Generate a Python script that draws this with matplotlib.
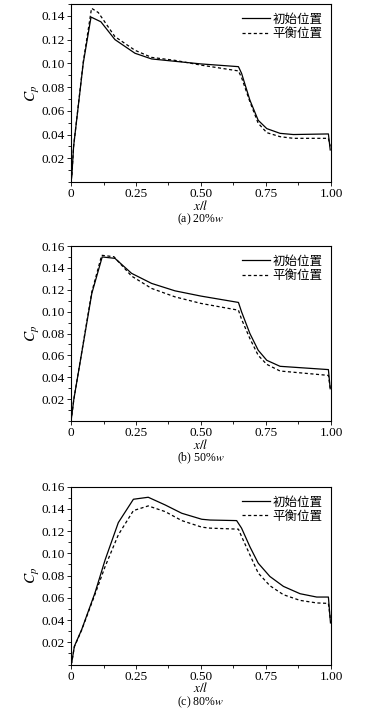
import matplotlib
matplotlib.use('Agg')
import matplotlib.pyplot as plt
from matplotlib.ticker import MultipleLocator, FixedLocator, FixedFormatter

plt.rcParams['font.family'] = ['Liberation Serif', 'Noto Sans CJK SC']
plt.rcParams['mathtext.fontset'] = 'stix'

# legend labels
labels = ['初始位置', '平衡位置']
captions = ['(a) 20%', '(b) 50%', '(c) 80%']

# (a) 20%w
xa_init = [0, 0.003, 0.010, 0.047, 0.077, 0.115, 0.169, 0.246, 0.31, 0.40, 0.50, 0.644,
           0.656, 0.688, 0.72, 0.753, 0.804, 0.855, 0.99, 0.997]
ya_init = [0.001, 0.0045, 0.030, 0.100, 0.139, 0.135, 0.120, 0.1085, 0.1037, 0.1017, 0.0995,
           0.0972, 0.0916, 0.069, 0.052, 0.045, 0.041, 0.040, 0.0405, 0.027]
xa_bal = [0, 0.003, 0.010, 0.047, 0.079, 0.105, 0.169, 0.246, 0.31, 0.40, 0.50, 0.644,
          0.656, 0.688, 0.72, 0.753, 0.804, 0.855, 0.99, 0.997]
ya_bal = [0.001, 0.0045, 0.030, 0.101, 0.1464, 0.1428, 0.1225, 0.111, 0.105, 0.1025, 0.0985,
          0.0936, 0.088, 0.0677, 0.0495, 0.0416, 0.0382, 0.0368, 0.0368, 0.030]

# (b) 50%w
xb_init = [0, 0.003, 0.011, 0.080, 0.120, 0.169, 0.233, 0.31, 0.40, 0.50, 0.644, 0.656,
           0.688, 0.72, 0.753, 0.804, 0.99, 0.997]
yb_init = [0.0, 0.005, 0.020, 0.1166, 0.150, 0.1487, 0.135, 0.1258, 0.119, 0.1142, 0.1084,
           0.0998, 0.080, 0.0647, 0.0555, 0.050, 0.047, 0.0295]
xb_bal = [0, 0.003, 0.011, 0.080, 0.118, 0.165, 0.233, 0.31, 0.40, 0.50, 0.644, 0.656,
          0.688, 0.72, 0.753, 0.804, 0.99, 0.997]
yb_bal = [0.0, 0.005, 0.020, 0.118, 0.1515, 0.1502, 0.1325, 0.1212, 0.1135, 0.1075, 0.1013,
          0.093, 0.0754, 0.060, 0.0518, 0.0457, 0.0417, 0.030]

# (c) 80%w
xc_init = [0, 0.003, 0.013, 0.041, 0.092, 0.131, 0.182, 0.24, 0.297, 0.362, 0.426, 0.503,
           0.535, 0.637, 0.656, 0.688, 0.72, 0.765, 0.817, 0.881, 0.945, 0.99, 0.998]
yc_init = [0, 0.002, 0.0164, 0.0314, 0.0643, 0.094, 0.1277, 0.1487, 0.1505, 0.1436, 0.1361,
           0.1307, 0.130, 0.1295, 0.1227, 0.106, 0.0912, 0.0792, 0.0703, 0.0637, 0.0607,
           0.0607, 0.0374]
xc_bal = [0, 0.003, 0.013, 0.041, 0.092, 0.131, 0.182, 0.24, 0.297, 0.362, 0.426, 0.503,
          0.535, 0.644, 0.656, 0.688, 0.72, 0.765, 0.817, 0.881, 0.945, 0.99, 0.998]
yc_bal = [0, 0.002, 0.016, 0.031, 0.063, 0.088, 0.1167, 0.1385, 0.1427, 0.1376, 0.1295,
          0.1236, 0.1227, 0.1218, 0.1152, 0.0987, 0.0823, 0.0709, 0.0628, 0.0577, 0.0554,
          0.055, 0.040]

panels = [
    (xa_init, ya_init, xa_bal, ya_bal, 0.15, [0.02, 0.04, 0.06, 0.08, 0.10, 0.12, 0.14]),
    (xb_init, yb_init, xb_bal, yb_bal, 0.16, [0.02, 0.04, 0.06, 0.08, 0.10, 0.12, 0.14, 0.16]),
    (xc_init, yc_init, xc_bal, yc_bal, 0.16, [0.02, 0.04, 0.06, 0.08, 0.10, 0.12, 0.14, 0.16]),
]
xticks = [0, 0.25, 0.50, 0.75, 1.00]
xticklabels = ['0', '0.25', '0.50', '0.75', '1.00']

W, H = 369, 724
fig = plt.figure(figsize=(W / 100, H / 100), dpi=100)

# axes boxes in pixels: (top, bottom)
boxes = [(4, 182), (246, 421), (486.7, 664.5)]
left_px, right_px = 71, 331

for i, (xi, yi, xb, yb, ymax, yt) in enumerate(panels):
    top, bot = boxes[i]
    ax = fig.add_axes([left_px / W, 1 - bot / H, (right_px - left_px) / W, (bot - top) / H])
    ax.plot(xi, yi, color='black', lw=0.9, label=labels[0])
    ax.plot(xb, yb, color='black', lw=0.9, dashes=(2.5, 2), label=labels[1])
    ax.set_xlim(0, 1.0)
    ax.set_ylim(0, ymax)
    ax.xaxis.set_major_locator(FixedLocator(xticks))
    ax.xaxis.set_major_formatter(FixedFormatter(xticklabels))
    ax.xaxis.set_minor_locator(MultipleLocator(0.125))
    ax.yaxis.set_major_locator(FixedLocator(yt))
    ax.yaxis.set_major_formatter(FixedFormatter(['%.2f' % v for v in yt]))
    ax.yaxis.set_minor_locator(MultipleLocator(0.01))
    ax.tick_params(which='both', direction='out', width=0.6, labelsize=9.5, pad=1.5)
    ax.tick_params(which='major', length=3)
    ax.tick_params(which='minor', length=2)
    for s in ax.spines.values():
        s.set_linewidth(0.8)
    ax.legend(loc='upper right', frameon=False, handlelength=2.2,
              handletextpad=0.2, labelspacing=0.1, borderaxespad=0.3,
              prop={'family': ['Noto Sans CJK SC'], 'size': 9})

    cx = (left_px + right_px) / 2 / W
    fig.text(cx, 1 - (bot + 24) / H, '$x/l$', ha='center', va='center', fontsize=9.5)
    fig.text(cx, 1 - (bot + 37.5) / H, captions[i] + '$w$', ha='center', va='center', fontsize=8.5)
    fig.text(33 / W, 1 - (top + bot) / 2 / H, '$C_p$', ha='center', va='center',
             rotation=90, fontsize=11)

fig.savefig('out.png', dpi=100)
